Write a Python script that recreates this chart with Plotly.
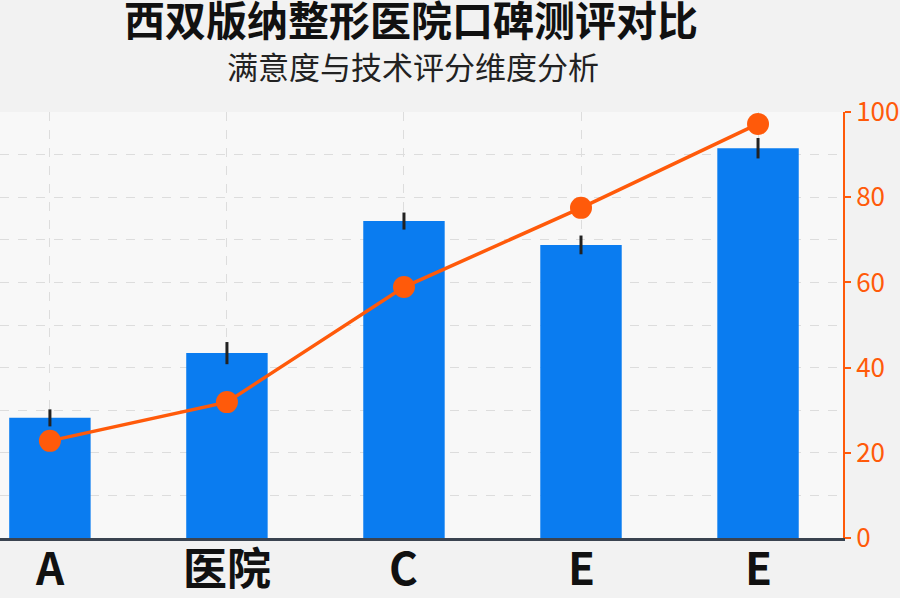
import plotly.graph_objects as go

categories = ["A", "医院", "C", "E", "E"]
bar_values = [28.2, 43.4, 74.4, 68.8, 91.5]
bar_errors = [2.0, 2.6, 2.0, 2.2, 2.4]
line_values = [22.8, 31.9, 58.9, 77.5, 97.2]
right_ticks = [0, 20, 40, 60, 80, 100]

x_pos = list(range(len(categories)))

BLUE = "#0A7CF0"
ORANGE = "#FF5A0A"
FONT = "Noto Sans CJK SC"

W, H = 900, 598
l, r, t, b = 0, 57, 112, 60
pw, ph = W - l - r, H - t - b

fig = go.Figure()
fig.add_trace(go.Bar(
    x=x_pos, y=bar_values, width=0.46,
    marker=dict(color=BLUE, line=dict(width=0)),
    error_y=dict(type="data", array=bar_errors, color="#222222", thickness=3, width=0),
    showlegend=False,
))
fig.add_trace(go.Scatter(
    x=x_pos, y=line_values, yaxis="y2", mode="lines+markers",
    line=dict(color=ORANGE, width=3.5),
    marker=dict(color=ORANGE, size=22),
    showlegend=False,
))


def ann(text, px, py, size, color):
    return dict(text=text, x=(px - l) / pw, y=1 + (t - py) / ph, xref="paper", yref="paper",
                xanchor="center", yanchor="middle", showarrow=False,
                font=dict(size=size, color=color, family=FONT))


annotations = [
    ann("<b>西双版纳整形医院口碑测评对比</b>", 411, 18, 41, "#111111"),
    ann("满意度与技术评分维度分析", 413, 65, 31, "#222222"),
]
# category labels under the axis, placed at the data positions
for xp, cat in zip(x_pos, categories):
    annotations.append(dict(
        text=f"<b>{cat}</b>", x=xp, xref="x", y=1 + (t - 566) / ph, yref="paper",
        xanchor="center", yanchor="middle", showarrow=False,
        font=dict(size=44, color="#111111", family=FONT),
    ))

fig.update_layout(
    width=W, height=H,
    paper_bgcolor="#f2f2f2", plot_bgcolor="#f8f8f8",
    margin=dict(l=l, r=r, t=t, b=b, autoexpand=False),
    font=dict(family=FONT),
    xaxis=dict(
        range=[-0.282, 4.48], tickvals=x_pos, showticklabels=False,
        showgrid=True, gridcolor="#dddddd", griddash="dash", gridwidth=1,
        showline=True, linecolor="#3a4350", linewidth=3,
        ticks="", zeroline=False,
    ),
    yaxis=dict(
        range=[0, 100], dtick=10, showticklabels=False,
        showgrid=True, gridcolor="#dddddd", griddash="dash", gridwidth=1,
        zeroline=False, showline=False,
    ),
    yaxis2=dict(
        range=[0, 100], tickvals=right_ticks, overlaying="y", side="right",
        showgrid=False, zeroline=False,
        showline=True, linecolor=ORANGE, linewidth=2,
        ticks="outside", tickcolor=ORANGE, ticklen=6, tickwidth=2,
        tickfont=dict(size=26, color=ORANGE, family=FONT),
    ),
    annotations=annotations,
)

fig.write_html("out.html", config={"displayModeBar": False},
               post_script="document.body.style.margin='0';document.body.style.background='#f2f2f2';")
